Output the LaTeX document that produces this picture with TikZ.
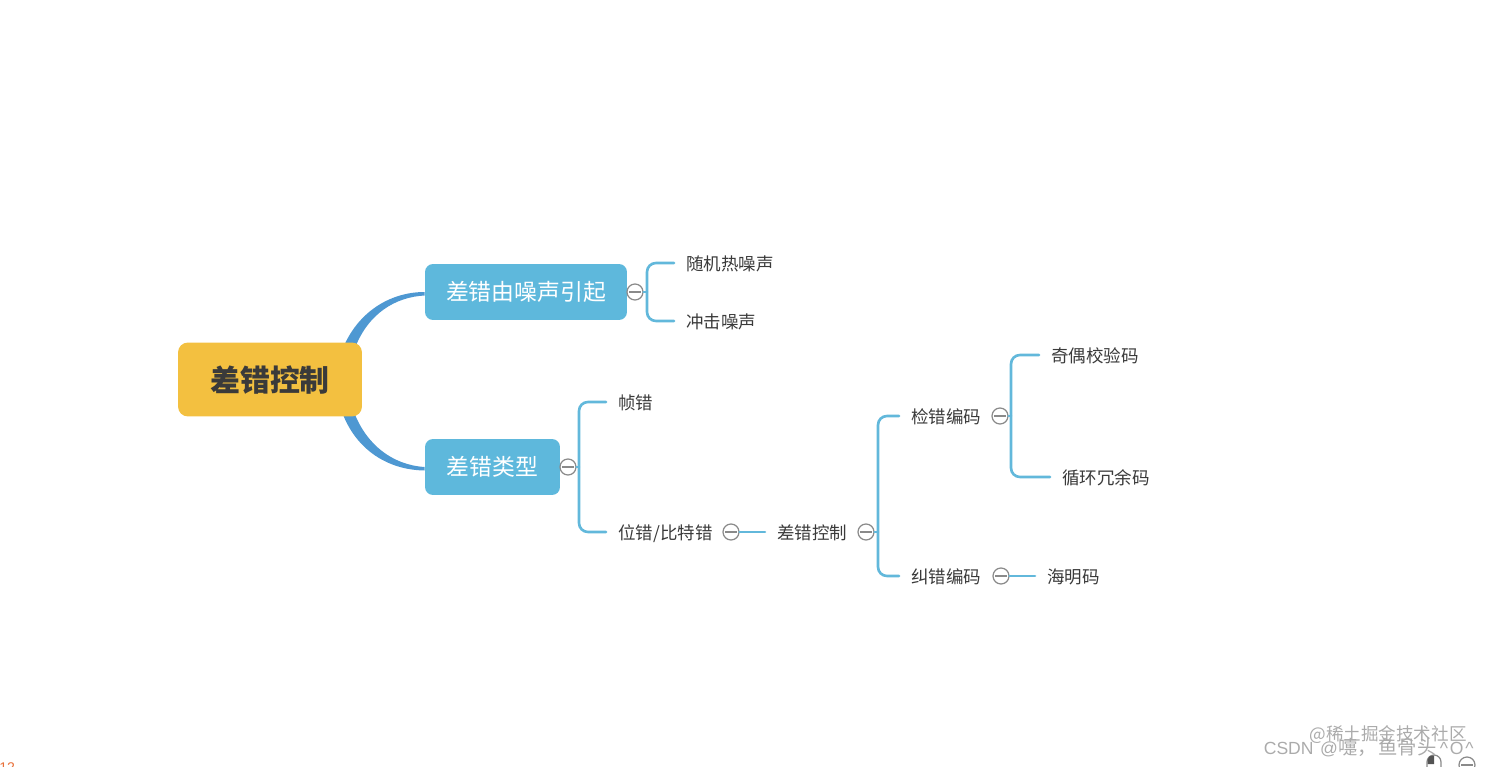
\documentclass[tikz,border=0pt]{standalone}
\usepackage{fontspec}
\setmainfont{Noto Sans CJK SC}
\setsansfont{Liberation Sans}
\usetikzlibrary{positioning,calc}
\definecolor{rootfill}{HTML}{F3C040}
\definecolor{topicfill}{HTML}{5EB8DC}
\definecolor{linkblue}{HTML}{62B8DB}
\definecolor{branchblue}{HTML}{4E98D2}
\definecolor{leaftext}{HTML}{3A3A3A}
\definecolor{btngray}{HTML}{8A8A8A}
\definecolor{markgray}{HTML}{ABABAB}
\definecolor{cornerorange}{HTML}{E8703A}
\tikzset{
    rootbox/.style={fill=rootfill, rounded corners=0.2cm, minimum width=3.68cm, minimum height=1.48cm, inner sep=0pt, text=leaftext, text height=16pt, text depth=1.94pt, font=\fontsize{17pt}{20pt}\selectfont\bfseries},
    topicbox/.style={fill=topicfill, rounded corners=0.16cm, minimum height=1.12cm, inner sep=0pt, text=white, font=\fontsize{13pt}{16pt}\selectfont},
    leaf/.style={anchor=west, inner xsep=0.24cm, inner ysep=1pt, text=leaftext, text height=10.66pt, text depth=2pt, font=\fontsize{9.95pt}{12pt}\selectfont},
    link/.style={draw=linkblue, line width=1.5pt, line cap=round, rounded corners=0.18cm},
    branch/.style={fill=branchblue},
    minusbtn/.style={draw=btngray, fill=white, circle, line width=0.7pt, minimum width=0.32cm, inner sep=0pt,
        path picture={\draw[btngray, line width=0.6pt] ($(path picture bounding box.west)+(2,0)$) -- ($(path picture bounding box.east)+(-2,0)$);}},
    wmark/.style={text=markgray, inner sep=0pt, font=\fontsize{10pt}{12pt}\selectfont}
}
\begin{document}
\begin{tikzpicture}[x=0.02cm,y=-0.02cm]
            \useasboundingbox (0,0) rectangle (1489,767);

            \node[topicbox, minimum width=4.04cm] (noise) at (526,292) {差错由噪声引起};
            \node[topicbox, minimum width=2.7cm] (kinds) at (492.5,467) {差错类型};

            \fill[branch] (343,348) .. controls (358,312) and (390,292) .. (noise.west)
            -- ++(0,3.5) .. controls (395,297) and (368,314) .. (355,348) -- cycle;
            \fill[branch] (342,412) .. controls (356,450) and (388,470) .. ($(kinds.west)+(0,3.5)$)
            -- (kinds.west) .. controls (392,465) and (366,444) .. (354,412) -- cycle;

            \node[rootbox] (root) at (270,379.5) {差错控制};

            \node[minusbtn] (btnnoise) at (635,292) {};
            \node[minusbtn] (btnkinds) at (568,467) {};
            \coordinate (forknoise) at (647,292);
            \coordinate (forkkinds) at (579,467);

            \node[leaf] (thermal) at (674,263) {随机热噪声};
            \node[leaf] (impulse) at (674,321) {冲击噪声};
            \node[leaf] (frame) at (606,402) {帧错};
            \node[leaf] (bit) at (606,532) {位错/比特错};

            \node[minusbtn] (btnbit) at (731,532) {};
            \node[leaf] (control) at (765,532) {差错控制};
            \node[minusbtn] (btncontrol) at (866,532) {};
            \coordinate (forkcontrol) at (878,532);

            \node[leaf] (detect) at (899,416) {检错编码};
            \node[leaf] (correct) at (899,576) {纠错编码};
            \node[minusbtn] (btndetect) at (1000,416) {};
            \node[minusbtn] (btncorrect) at (1001,576) {};
            \coordinate (forkdetect) at (1011,416);

            \node[leaf] (parity) at (1039,355) {奇偶校验码};
            \node[leaf] (crc) at (1050,477) {循环冗余码};
            \node[leaf] (hamming) at (1035,576) {海明码};

            \draw[link] (thermal.west) -| (forknoise) |- (impulse.west);
            \draw[link] (frame.west) -| (forkkinds) |- (bit.west);
            \draw[link] (detect.west) -| (forkcontrol) |- (correct.west);
            \draw[link] (parity.west) -| (forkdetect) |- (crc.west);
            \draw[link] (btnnoise.east) -- (forknoise);
            \draw[link] (btnkinds.east) -- (forkkinds);
            \draw[link] (btncontrol.east) -- (forkcontrol);
            \draw[link] (btndetect.east) -- (forkdetect);
            \draw[link] (btnbit.east) -- (control.west);
            \draw[link] (btncorrect.east) -- (hamming.west);

            \node[minusbtn] (btnzoom) at (1467,765) {};
            \draw[draw=btngray, line width=0.7pt, fill=white, rounded corners=0.14cm] (1427,785) rectangle (1441,755);
            \fill[btngray!60!black] (1427.5,764) -- (1427.5,760) .. controls (1427.5,757) and (1430,755.5) .. (1434,755.5) -- (1434,764) -- cycle;

            \node[wmark, anchor=east] (mark1) at (1467,735) {@稀土掘金技术社区};
            \node[wmark, anchor=east] (mark2) at (1474,748) {\sffamily CSDN\hspace{1pt} @\rmfamily\fontsize{11pt}{12pt}\selectfont 嚏，\hspace{1pt}鱼骨头\sffamily\fontsize{10pt}{12pt}\selectfont\hspace{2pt}\^{}\hspace{1pt}O\hspace{1pt}\^{}};

            \node[anchor=west, inner sep=0pt, text=cornerorange, font=\fontsize{8pt}{10pt}\selectfont\sffamily] (corner) at (-1,768) {12};
        \end{tikzpicture}
\end{document}
